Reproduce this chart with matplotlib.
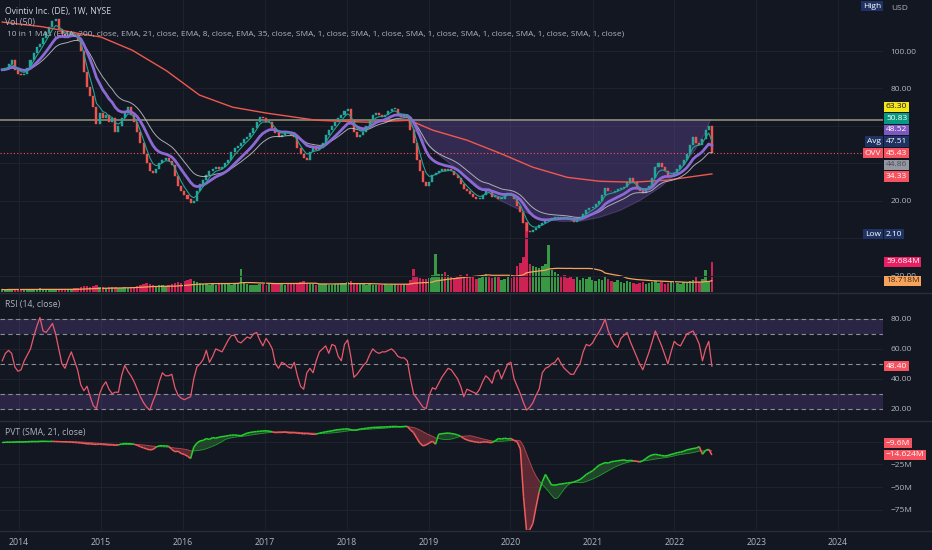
import numpy as np
import pandas as pd
import matplotlib
matplotlib.use("Agg")
import matplotlib.pyplot as plt
import matplotlib.dates as mdates
from matplotlib.collections import LineCollection

# two-week bars, last one is the week of 2022-06-17
dates = pd.date_range(end="2022-06-17", periods=227, freq="14D")

close = [
    90, 91, 93, 95, 90, 88, 87, 88, 91, 95,
    99, 102, 104, 107, 110, 113, 116, 117, 112, 109,
    107, 108, 110, 109, 106, 100, 89, 81, 76, 70,
    61, 67, 64, 66, 62, 64, 57, 60, 64, 67,
    70, 66, 62, 57, 51, 45, 40, 36, 35, 37,
    40, 42, 43, 41, 39, 33, 28, 25, 23, 21,
    19, 20, 25, 29, 31, 34, 36, 37, 38, 37,
    38, 40, 42, 46, 48, 49, 51, 53, 54, 56,
    59, 62, 65, 64, 62, 62, 59, 56, 54, 55,
    57, 56, 55, 54, 48, 45, 43, 42, 46, 48,
    47, 48, 51, 55, 58, 60, 62, 64, 66, 68,
    69, 63, 57, 54, 55, 57, 60, 63, 66, 67,
    66, 65, 66, 68, 69, 69, 66, 65, 66, 65,
    58, 51, 42, 36, 30, 28, 30, 34, 35, 36,
    37, 36, 37, 36, 34, 32, 29, 26, 25, 23.5,
    22, 21, 21, 23, 26, 25, 22, 22, 21, 21,
    23, 24, 23, 21, 17, 14, 8, 4, 3.2, 4.2,
    5.5, 7, 8, 9.3, 10, 11, 11, 11.5, 11, 10.8,
    10.4, 9.5, 8.6, 9.8, 11, 13, 15, 16, 16.5, 18,
    20, 23, 27, 25, 24.6, 25, 26, 27, 27.5, 30,
    32, 30, 27, 25, 24, 26, 28, 32, 38, 40,
    38, 36, 33, 34, 35, 37, 39, 42, 45, 50,
    54, 51, 50, 53, 58, 60, 45.43,
]

# volume in millions of shares
volume = [
    5, 4, 6, 5, 4, 5, 6, 5, 4, 6,
    5, 6, 7, 5, 6, 4, 5, 6, 5, 6,
    5, 6, 5, 7, 8, 9, 11, 12, 10, 12,
    14, 10, 9, 8, 9, 10, 9, 8, 8, 9,
    8, 9, 10, 12, 14, 15, 17, 16, 14, 12,
    14, 13, 12, 14, 15, 17, 20, 18, 22, 24,
    26, 22, 20, 18, 16, 15, 14, 16, 14, 15,
    16, 17, 15, 14, 16, 18, 46, 18, 16, 14,
    14, 13, 15, 16, 14, 15, 17, 16, 18, 15,
    14, 16, 15, 17, 18, 20, 22, 18, 16, 15,
    14, 15, 16, 15, 14, 13, 15, 16, 18, 17,
    20, 22, 18, 16, 15, 16, 14, 15, 13, 14,
    14, 13, 15, 14, 16, 15, 13, 14, 16, 15,
    24, 46, 30, 28, 26, 25, 28, 34, 76, 36,
    36, 40, 34, 30, 28, 32, 34, 30, 36, 32,
    30, 26, 28, 34, 36, 30, 28, 32, 30, 24,
    26, 30, 28, 34, 52, 58, 70, 139, 56, 52,
    50, 48, 52, 56, 93, 44, 40, 36, 30, 34,
    28, 32, 26, 30, 24, 28, 26, 30, 24, 22,
    26, 24, 30, 26, 22, 20, 24, 20, 18, 22,
    20, 18, 16, 18, 20, 16, 18, 20, 22, 18,
    20, 16, 18, 20, 22, 18, 16, 20, 18, 22,
    24, 30, 20, 26, 43, 22, 59.684,
]

rsi = [
    52, 57, 59, 57, 48, 45, 46, 52, 56, 60,
    68, 75, 81, 72, 71, 74, 77, 70, 60, 50,
    47, 53, 58, 52, 46, 36, 32, 35, 28, 22,
    20, 30, 35, 38, 33, 30, 31, 31, 42, 49,
    45, 42, 38, 33, 28, 24, 21, 19, 25, 30,
    38, 44, 42, 42, 43, 34, 29, 27, 26, 27,
    28, 40, 48, 50, 53, 59, 51, 55, 60, 59,
    58, 62, 66, 69, 69, 65, 64, 66, 68, 67,
    70, 71, 66, 62, 67, 64, 60, 50, 47, 51,
    50, 48, 47, 51, 42, 35, 33, 44, 47, 44,
    52, 58, 60, 62, 57, 63, 62, 55, 52, 63,
    66, 55, 41, 43, 46, 49, 51, 56, 60, 58,
    57, 58, 58, 59, 60, 58, 55, 54, 54, 52,
    40, 30, 27, 24, 21, 20, 29, 34, 33, 37,
    41, 44, 47, 46, 43, 40, 35, 28, 33, 32,
    31, 30, 33, 38, 42, 40, 37, 44, 46, 40,
    45, 50, 51, 40, 35, 30, 24, 19, 21, 24,
    29, 33, 44, 47, 48, 50, 51, 54, 50, 47,
    45, 43, 43, 47, 50, 58, 63, 62, 64, 68,
    71, 75, 80, 72, 67, 63, 61, 67, 69, 71,
    65, 60, 55, 50, 46, 52, 58, 65, 72, 67,
    62, 56, 50, 58, 65, 63, 62, 66, 70, 71,
    72, 68, 63, 52, 60, 65, 48.4,
]

# price volume trend, millions
pvt = [
    -0.9, -0.6, -0.4, -0.5, -0.3, -0.2, -0.3, -0.1, 0.0, 0.2,
    0.3, 0.2, 0.4, 0.5, 0.4, 0.3, 0.4, 0.2, 0.1, -0.1,
    -0.2, -0.3, -0.5, -0.8, -1.0, -1.4, -1.8, -2.3, -2.4, -2.8,
    -3.0, -2.7, -3.0, -3.2, -3.6, -3.5, -4.0, -3.6, -2.4, -2.0,
    -2.1, -2.3, -2.8, -4.0, -5.5, -6.8, -8.0, -9.0, -8.5, -6.0,
    -4.5, -4.4, -4.6, -5.0, -8.5, -11.0, -10.5, -13.0, -14.0, -16.0,
    -18.5, -6.0, -1.5, 0.9, 1.5, 3.5, 2.5, 4.6, 3.8, 5.0,
    5.6, 6.0, 6.8, 7.2, 7.4, 7.0, 6.5, 8.0, 9.5, 10.2,
    10.8, 11.2, 11.5, 11.8, 12.0, 11.6, 11.0, 10.0, 10.3, 10.2,
    10.6, 10.0, 9.7, 10.0, 9.4, 9.2, 8.7, 9.0, 8.5, 8.2,
    8.3, 9.4, 10.2, 10.9, 11.5, 12.0, 12.8, 13.2, 13.6, 14.0,
    14.2, 13.2, 12.7, 13.0, 13.9, 14.4, 14.8, 15.3, 15.7, 15.8,
    16.0, 16.2, 16.3, 16.5, 16.7, 16.8, 16.6, 16.4, 16.8, 16.9,
    13.0, 10.0, 4.0, -1.5, -4.6, -3.5, -1.5, 0.5, -2.8, 8.3,
    8.8, 9.2, 9.6, 9.0, 8.5, 7.5, 6.0, 3.5, 2.0, 0.9,
    0.2, -0.5, -0.9, -0.5, -0.2, -0.8, -1.0, 1.0, 3.5, 3.0,
    3.8, 3.2, 3.5, 1.5, -0.2, -8.0, -60.0, -99.0, -97.0, -90.0,
    -72.0, -55.0, -44.0, -36.0, -42.0, -48.0, -48.0, -47.0, -46.5, -46.0,
    -45.5, -45.0, -44.5, -43.0, -41.7, -39.0, -36.0, -34.0, -32.0, -29.0,
    -26.0, -24.5, -23.0, -23.5, -22.0, -21.5, -21.0, -20.5, -20.0, -21.0,
    -20.5, -21.0, -21.5, -22.4, -21.0, -18.5, -16.0, -14.5, -13.9, -14.5,
    -15.2, -15.7, -15.2, -14.0, -13.2, -12.0, -11.5, -10.5, -9.0, -8.3,
    -7.5, -7.0, -5.4, -13.9, -9.5, -8.3, -14.624,
]

# 200 EMA (needs history older than the window)
ema200_dates = ["2013-10-18", "2014-04-15", "2014-09-15", "2015-01-01", "2015-05-20",
                "2015-10-20", "2016-03-15", "2016-08-10", "2017-01-10", "2017-08-20",
                "2018-04-01", "2018-10-08", "2019-01-20", "2019-06-20", "2019-11-15",
                "2020-04-10", "2020-09-10", "2021-02-01", "2021-07-01", "2021-11-30",
                "2022-06-17"]
ema200_vals = [115.5, 113, 109.6, 107.5, 100.5, 89.5, 76.5, 70, 66.8, 63,
               62, 63, 57.7, 52.4, 45.4, 37.9, 32.5, 30.4, 29.9, 31, 34.33]

# cup drawing
cup_dates = ["2018-09-27", "2018-11-24", "2019-01-20", "2019-04-05", "2019-06-20",
             "2019-09-10", "2019-11-15", "2020-02-15", "2020-05-12", "2020-08-10",
             "2020-11-05", "2021-02-01", "2021-05-05", "2021-08-01", "2021-10-30",
             "2022-01-25", "2022-04-01", "2022-05-18", "2022-06-10"]
cup_prices = [63.3, 54, 47, 40, 32.5, 25.6, 20.2, 14.9, 10.6, 9, 9, 11.1, 14.9,
              20.2, 27.2, 36.3, 47, 56, 63.3]

years = list(range(2014, 2025))
price_ticks = [100, 80, 60, 40, 20, 0, -20]
price_tick_labels = ["100.00", "80.00", "", "", "20.00", "", "\u221220.00"]
rsi_ticks = [80, 60, 40, 20]
rsi_levels = [80, 70, 50, 30, 20]
pvt_ticks = [0, -25, -50, -75]
pvt_tick_labels = ["", "\u221225M", "\u221250M", "\u221275M"]

price_tags = ["63.30", "50.83", "48.52", "47.51", "45.43", "44.86", "34.33"]
price_tag_bg = ["#f5e61c", "#089981", "#7e57c2", "#1e3264", "#f7525f", "#9598a1", "#f7525f"]
price_tag_fg = ["#131722", "#ffffff", "#ffffff", "#ffffff", "#ffffff", "#4a4d57", "#ffffff"]

BG = "#131722"
GRID = "#1e222d"
TXT = "#b2b5be"
UP, DOWN = "#26a69a", "#ef5350"
plt.rcParams["font.family"] = ["Open Sans", "DejaVu Sans"]
FS = 6

W, H = 932, 550


def rect(x0, y0, x1, y1):
    return [x0 / W, 1 - y1 / H, (x1 - x0) / W, (y1 - y0) / H]


def tag(ax, y, text, fc, tc="#ffffff", dy=0, left=False, ycoords="data"):
    ax.annotate(text, xy=(1, y), xycoords=("axes fraction", ycoords),
                xytext=(-2 if left else 3, dy), textcoords="offset pixels",
                ha="right" if left else "left", va="center", fontsize=FS, color=tc,
                annotation_clip=False, zorder=10,
                bbox=dict(boxstyle="square,pad=0.2", fc=fc, ec="none"))


fig = plt.figure(figsize=(W / 100, H / 100), dpi=100, facecolor=BG)
ax_p = fig.add_axes(rect(0, 0, 883, 292))
ax_vol = ax_p.twinx()
ax_r = fig.add_axes(rect(0, 293, 883, 420))
ax_v = fig.add_axes(rect(0, 421, 883, 530))

xmin, xmax = pd.Timestamp("2013-10-08"), pd.Timestamp("2024-07-19")
year_pos = [pd.Timestamp(f"{y}-01-01") for y in years]

for ax in (ax_p, ax_vol, ax_r, ax_v):
    ax.set_xlim(xmin, xmax)
    for s in ax.spines.values():
        s.set_visible(False)
    ax.tick_params(length=0, labelsize=FS, colors=TXT)
for ax in (ax_p, ax_r, ax_v):
    ax.set_facecolor(BG)
    for xp in year_pos:
        ax.axvline(xp, color=GRID, lw=0.8, zorder=0)
    ax.yaxis.tick_right()
    ax.tick_params(axis="y", pad=5.5)
    ax.set_xticks([])

ax_p.set_zorder(ax_vol.get_zorder() + 1)
ax_p.patch.set_visible(False)
ax_vol.patch.set_visible(True)
ax_vol.set_facecolor(BG)
ax_vol.set_yticks([])
ax_vol.set_xticks([])

# ---- price pane
c = np.array(close)
o = np.r_[c[0], c[:-1]]
up = c >= o
ax_p.set_ylim(-28.8, 127.3)
ax_p.set_yticks(price_ticks)
ax_p.set_yticklabels(price_tick_labels)
for t in price_ticks:
    ax_p.axhline(t, color=GRID, lw=0.8, zorder=0)

ax_p.fill(pd.to_datetime(cup_dates), cup_prices, color="#7e57c2", alpha=0.3, lw=0.8,
          ec="#9575cd", zorder=1)
ax_p.axhline(63.30, color="#8d8d78", lw=1.2, zorder=1.5)
ax_p.axhline(45.43, color="#f7525f", lw=0.8, ls=(0, (1, 2)), zorder=1.5)

body = np.where(np.abs(c - o) < 0.4, 0.4, c - o)
ax_p.bar(dates, body, bottom=o, width=9, color=np.where(up, UP, DOWN),
         edgecolor=np.where(up, UP, DOWN), lw=0.3, zorder=3)

s = pd.Series(c, index=dates)


def ema_w(n):
    # weekly EMA length expressed on two-week bars
    a = 1 - (1 - 2 / (n + 1)) ** 2
    return s.ewm(alpha=a, adjust=False).mean()


ax_p.plot(pd.to_datetime(ema200_dates), ema200_vals, color="#f0584f", lw=1.0, zorder=4)
ax_p.plot(dates, ema_w(35), color="#c3c5cc", lw=0.7, alpha=0.85, zorder=4)
ax_p.plot(dates, ema_w(21), color="#8c6ad6", lw=2.0, zorder=4)
ax_p.plot(dates, ema_w(8), color="#22a393", lw=0.8, zorder=4)

# volume overlay
vol = np.array(volume)
ax_vol.set_ylim(0, 580)
ax_vol.bar(dates, vol, width=11, color=np.where(up, "#3fb04a", "#f0245f"),
           alpha=0.85, lw=0)
vol_ma = pd.Series(vol).rolling(25, min_periods=1).mean()
ax_vol.plot(dates, vol_ma, color="#f7a35c", lw=0.9)

# right-side labels
for k, (txt, bg, fg) in enumerate(zip(price_tags, price_tag_bg, price_tag_fg)):
    tag(ax_p, c[-1], txt, bg, fg, dy=(4 - k) * 11.6)
tag(ax_p, c[-1], "Avg", "#1e3264", dy=11.6, left=True)
tag(ax_p, c[-1], "OVV", "#f7525f", left=True)
tag(ax_p, 2.10, "2.10", "#1e3264")
tag(ax_p, 2.10, "Low", "#1e3264", left=True)
ax_p.annotate("High", xy=(1, 1), xycoords="axes fraction", xytext=(-2, -6),
              textcoords="offset pixels", ha="right", va="center", fontsize=FS,
              color="#ffffff", bbox=dict(boxstyle="square,pad=0.2", fc="#1e3264", ec="none"))
ax_p.annotate("USD", xy=(1, 1), xycoords="axes fraction", xytext=(8, -9),
              textcoords="offset pixels", ha="left", va="center", fontsize=FS,
              color=TXT, annotation_clip=False)
tag(ax_p, vol[-1], "59.684M", "#e91e63", ycoords=ax_vol.transData)
tag(ax_p, vol_ma.iloc[-1], "18.718M", "#f7a35c", "#3b2a1a", ycoords=ax_vol.transData)

# ---- RSI pane
ax_r.set_ylim(12.4, 97.4)
ax_r.set_yticks(rsi_ticks)
ax_r.set_yticklabels([f"{t:.2f}" for t in rsi_ticks])
for t in rsi_ticks:
    ax_r.axhline(t, color=GRID, lw=0.8, zorder=0)
ax_r.axhspan(70, 80, color="#7e57c2", alpha=0.22, lw=0, zorder=1)
ax_r.axhspan(20, 30, color="#7e57c2", alpha=0.22, lw=0, zorder=1)
for lv in rsi_levels:
    ax_r.axhline(lv, color="#8a8d96", lw=0.8, ls=(0, (4, 3)), zorder=2)
ax_r.plot(dates, rsi, color="#e8596b", lw=0.9, zorder=3)
tag(ax_r, rsi[-1], "48.40", "#f7525f")

# ---- PVT pane
p = np.array(pvt)
sig = pd.Series(p).rolling(11, min_periods=1).mean().to_numpy()
xd = mdates.date2num(dates)
ax_v.set_ylim(-97.2, 22.8)
ax_v.set_yticks(pvt_ticks)
ax_v.set_yticklabels(pvt_tick_labels)
for t in pvt_ticks:
    ax_v.axhline(t, color=GRID, lw=0.8, zorder=0)
ax_v.fill_between(xd, p, sig, where=p >= sig, interpolate=True, color="#2e7d32",
                  alpha=0.45, lw=0, zorder=1)
ax_v.fill_between(xd, p, sig, where=p < sig, interpolate=True, color="#a53a47",
                  alpha=0.5, lw=0, zorder=1)
seg_col = np.where(p[1:] >= sig[1:], "#25d12f", "#f25b5b")
pts = np.column_stack([xd, p])
ax_v.add_collection(LineCollection(np.stack([pts[:-1], pts[1:]], axis=1),
                                   colors=seg_col, lw=1.1, zorder=3))
spts = np.column_stack([xd, sig])
ax_v.add_collection(LineCollection(np.stack([spts[:-1], spts[1:]], axis=1),
                                   colors=seg_col, lw=0.6, alpha=0.7, zorder=2))
tag(ax_v, p[-1], "\u221214.624M", "#f7525f")
tag(ax_v, p[-1], "\u22129.6M", "#f7525f", dy=11.7)

ax_v.set_xticks(year_pos)
ax_v.set_xticklabels([str(y) for y in years])
ax_v.tick_params(axis="x", pad=5.5, labelsize=6.3)

# pane separators
for yy in (292.5, 420.5, 530.5):
    fig.add_artist(plt.Line2D([0, 1], [1 - yy / H] * 2, color="#2a2e39", lw=1))

# legends / titles
fig.text(5 / W, 1 - 11.7 / H, "Ovintiv Inc. (DE), 1W, NYSE", color="#d1d4dc", fontsize=6.2, va="center")
fig.text(5 / W, 1 - 22.7 / H, "Vol (50)", color=TXT, fontsize=6.2, va="center")
fig.text(7 / W, 1 - 34.3 / H,
         "10 in 1 MAs (EMA, 200, close, EMA, 21, close, EMA, 8, close, EMA, 35, close, "
         "SMA, 1, close, SMA, 1, close, SMA, 1, close, SMA, 1, close, SMA, 1, close, SMA, 1, close)",
         color=TXT, fontsize=6.0, va="center")
fig.text(5 / W, 1 - 304 / H, "RSI (14, close)", color=TXT, fontsize=6.2, va="center")
fig.text(5 / W, 1 - 432 / H, "PVT (SMA, 21, close)", color=TXT, fontsize=6.2, va="center")

fig.savefig("out.png", dpi=100, facecolor=BG)
